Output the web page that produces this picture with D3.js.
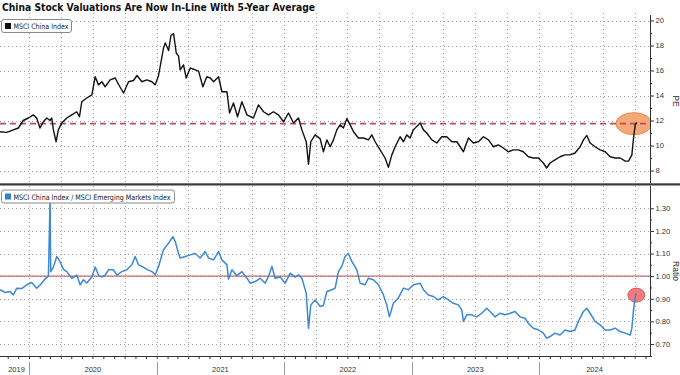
<!DOCTYPE html>
<html><head><meta charset="utf-8">
<script src="https://cdn.jsdelivr.net/npm/d3@7"></script>
<style>body{margin:0;background:#fff}svg{display:block}</style>
</head><body><svg id="c" width="680" height="375"></svg>
<script>
// ---------- DATA ----------
const titleText = "China Stock Valuations Are Now In-Line With 5-Year Average";
const peLegend = "MSCI China Index";
const ratioLegend = "MSCI China Index / MSCI Emerging Markets Index";
const peTimes = [2019.773,2019.825,2019.877,2019.916,2019.955,2019.995,2020.034,2020.060,2020.086,2020.112,2020.139,2020.165,2020.178,2020.191,2020.212,2020.230,2020.256,2020.296,2020.335,2020.374,2020.395,2020.413,2020.452,2020.492,2020.518,2020.544,2020.570,2020.596,2020.635,2020.675,2020.700,2020.740,2020.779,2020.818,2020.845,2020.884,2020.923,2020.962,2020.988,2021.014,2021.053,2021.067,2021.093,2021.111,2021.132,2021.153,2021.171,2021.184,2021.210,2021.231,2021.263,2021.302,2021.328,2021.362,2021.393,2021.420,2021.446,2021.485,2021.511,2021.551,2021.571,2021.602,2021.634,2021.668,2021.708,2021.759,2021.798,2021.838,2021.877,2021.916,2021.955,2021.995,2022.034,2022.073,2022.112,2022.139,2022.173,2022.191,2022.209,2022.243,2022.282,2022.308,2022.335,2022.361,2022.387,2022.413,2022.439,2022.465,2022.492,2022.518,2022.544,2022.583,2022.622,2022.661,2022.688,2022.714,2022.753,2022.792,2022.818,2022.845,2022.871,2022.910,2022.936,2022.962,2022.988,2023.014,2023.067,2023.093,2023.119,2023.159,2023.198,2023.237,2023.276,2023.316,2023.355,2023.407,2023.446,2023.485,2023.524,2023.564,2023.603,2023.642,2023.681,2023.720,2023.759,2023.799,2023.838,2023.877,2023.916,2023.955,2023.995,2024.034,2024.060,2024.086,2024.125,2024.165,2024.204,2024.243,2024.282,2024.322,2024.348,2024.374,2024.400,2024.439,2024.478,2024.518,2024.557,2024.596,2024.635,2024.675,2024.701,2024.727,2024.740,2024.753,2024.766];
const peValues = [11.1,11.05,11.25,11.4,12.0,12.2,12.45,12.2,11.4,11.9,12.2,12.0,12.2,11.25,10.3,11.25,11.8,12.2,12.45,12.7,12.3,13.5,13.8,14.05,15.5,14.85,15.1,14.7,15.25,15.4,14.9,14.2,15.1,15.2,15.6,15.1,15.25,15.1,14.85,15.6,17.8,18.2,17.6,18.8,18.95,17.4,17.15,16.05,16.45,15.4,16.2,16.05,15.95,14.7,15.5,15.4,15.1,15.5,14.3,14.3,12.6,13.4,12.3,13.5,12.45,12.2,13.25,12.7,12.45,12.7,12.45,11.9,12.6,11.8,12.2,11.25,10.3,8.5,10.3,10.85,10.55,9.5,10.45,9.9,10.45,11.25,11.65,11.4,12.15,11.65,11.1,10.6,10.6,10.45,10.85,10.3,9.65,9.0,8.25,9.25,9.9,10.7,10.3,10.85,10.6,11.25,11.8,11.25,11.0,10.45,10.2,10.7,10.7,10.3,10.3,9.5,10.6,10.2,10.3,10.7,10.45,9.9,10.05,9.8,9.5,9.65,9.65,9.5,9.1,9.0,9.0,8.6,8.2,8.6,8.85,9.1,9.25,9.25,9.4,9.9,10.45,10.8,10.2,9.9,9.65,9.5,9.1,9.0,9.0,8.75,8.75,9.25,10.6,11.65,11.85];
const ratioTimes = [2019.773,2019.812,2019.851,2019.877,2019.904,2019.943,2019.982,2020.021,2020.060,2020.086,2020.125,2020.152,2020.165,2020.170,2020.191,2020.217,2020.238,2020.269,2020.296,2020.335,2020.374,2020.400,2020.426,2020.452,2020.492,2020.518,2020.544,2020.570,2020.596,2020.622,2020.661,2020.688,2020.727,2020.766,2020.805,2020.831,2020.857,2020.884,2020.923,2020.962,2020.988,2021.014,2021.053,2021.093,2021.127,2021.145,2021.171,2021.184,2021.224,2021.263,2021.302,2021.341,2021.380,2021.406,2021.446,2021.485,2021.511,2021.551,2021.563,2021.590,2021.629,2021.668,2021.708,2021.733,2021.773,2021.812,2021.851,2021.877,2021.904,2021.929,2021.969,2022.008,2022.047,2022.086,2022.112,2022.139,2022.173,2022.191,2022.209,2022.243,2022.282,2022.308,2022.335,2022.374,2022.400,2022.426,2022.452,2022.478,2022.504,2022.531,2022.570,2022.596,2022.635,2022.661,2022.700,2022.740,2022.779,2022.805,2022.826,2022.857,2022.896,2022.936,2022.975,2023.014,2023.067,2023.093,2023.132,2023.171,2023.210,2023.249,2023.289,2023.328,2023.367,2023.394,2023.407,2023.433,2023.472,2023.511,2023.551,2023.590,2023.629,2023.655,2023.694,2023.733,2023.773,2023.812,2023.851,2023.890,2023.916,2023.955,2023.995,2024.034,2024.060,2024.086,2024.125,2024.165,2024.204,2024.243,2024.282,2024.308,2024.348,2024.374,2024.400,2024.439,2024.478,2024.518,2024.557,2024.596,2024.635,2024.675,2024.714,2024.727,2024.740,2024.753,2024.762];
const ratioValues = [0.94,0.928,0.932,0.917,0.947,0.945,0.962,0.972,0.947,0.96,0.987,1.0,1.34,1.02,1.04,1.087,1.07,1.03,1.02,0.99,1.005,0.962,0.984,0.97,0.996,1.04,1.005,0.996,1.005,1.028,1.028,1.005,1.02,1.028,1.05,1.087,1.05,1.043,1.03,1.02,1.006,1.043,1.117,1.146,1.175,1.153,1.10,1.08,1.087,1.094,1.10,1.08,1.109,1.08,1.072,1.109,1.072,1.05,0.987,1.028,1.002,1.02,0.991,0.969,0.976,0.991,0.969,0.999,1.043,0.991,0.996,0.969,1.013,0.996,1.006,0.991,0.925,0.77,0.873,0.895,0.866,0.87,0.932,0.94,0.947,1.02,1.043,1.087,1.10,1.065,1.028,0.969,0.962,0.991,0.984,0.962,0.917,0.873,0.82,0.88,0.903,0.947,0.94,0.962,0.969,0.94,0.917,0.91,0.895,0.91,0.895,0.88,0.873,0.851,0.80,0.829,0.829,0.82,0.836,0.858,0.836,0.82,0.836,0.829,0.836,0.844,0.82,0.814,0.792,0.77,0.763,0.748,0.726,0.733,0.748,0.74,0.762,0.755,0.762,0.80,0.844,0.858,0.836,0.80,0.785,0.762,0.762,0.77,0.755,0.748,0.74,0.77,0.851,0.91,0.925];
const peTicks = [8,10,12,14,16,18,20];
const peMinor = [9,11,13,15,17,19];
const ratioTicks = [0.70,0.80,0.90,1.00,1.10,1.20,1.30];
const ratioMinor = [0.75,0.85,0.95,1.05,1.15,1.25];
const yearLabels = ["2019","2020","2021","2022","2023","2024"];
const peAverage = 11.75;      // 5-year average (dashed)
const ratioParity = 1.00;     // parity line
const peAxisTitle = "PE", ratioAxisTitle = "Ratio";

// ---------- HELPERS ----------
function dec(t){const y=Math.floor(t);const s=Date.UTC(y,0,1),e=Date.UTC(y+1,0,1);return new Date(s+(t-y)*(e-s));}
const FONT = "'DejaVu Sans', Verdana, sans-serif";
const TFONT = "'Liberation Sans', Arial, sans-serif";
const svg = d3.select("#c");
const W = 650;
const x = d3.scaleUtc().domain([new Date(Date.UTC(2020,0,1)), new Date(Date.UTC(2024,0,1))]).range([29,539]);
const yPE = d3.scaleLinear().domain([8,20]).range([170.5,20.5]);
const yR = d3.scaleLinear().domain([0.7,1.3]).range([344,208.3]);
const pTop = {y0:13, y1:183};
const pBot = {y0:186, y1:356};
const quarters = d3.utcMonth.every(3).range(new Date(Date.UTC(2019,9,1)), new Date(Date.UTC(2025,0,1))).filter(d=>x(d)>=0&&x(d)<=W);
const months = d3.utcMonth.range(new Date(Date.UTC(2019,9,1)), new Date(Date.UTC(2025,0,1))).filter(d=>x(d)>=0&&x(d)<=W);
const defs = svg.append("defs");
defs.append("clipPath").attr("id","ct").append("rect").attr("x",0).attr("y",pTop.y0).attr("width",W).attr("height",pTop.y1-pTop.y0);
defs.append("clipPath").attr("id","cb").append("rect").attr("x",0).attr("y",pBot.y0).attr("width",W).attr("height",pBot.y1-pBot.y0);

function grid(g, ticks, y, y0, y1){
  g.selectAll(".h").data(ticks).join("line").attr("class","h").attr("x1",0).attr("x2",W).attr("y1",d=>Math.round(y(d))+0.5).attr("y2",d=>Math.round(y(d))+0.5)
   .attr("stroke","#a0a0a0").attr("stroke-width",1).attr("stroke-dasharray","1,3");
  g.selectAll(".v").data(quarters).join("line").attr("class","v").attr("x1",d=>Math.round(x(d))+0.5).attr("x2",d=>Math.round(x(d))+0.5).attr("y1",y0).attr("y2",y1)
   .attr("stroke","#a0a0a0").attr("stroke-width",1).attr("stroke-dasharray","1,3");
}
// ---------- TOP PANEL ----------
const gT = svg.append("g");
grid(gT.append("g"), peTicks, yPE, pTop.y0, pTop.y1);
const gTc = gT.append("g").attr("clip-path","url(#ct)");
const lastPE = peTimes.length-1;
gTc.append("ellipse").attr("cx",x(dec(peTimes[lastPE]))-3).attr("cy",yPE(peAverage)).attr("rx",18).attr("ry",11)
  .attr("fill","#f5a878").attr("stroke","#e88a50").attr("stroke-width",1);
gTc.append("line").attr("x1",0).attr("x2",W).attr("y1",yPE(peAverage)).attr("y2",yPE(peAverage))
  .attr("stroke","#b8525a").attr("stroke-width",1.6).attr("stroke-dasharray","6,4");
const pe = peTimes.map((t,i)=>({t:dec(t),v:peValues[i]}));
gTc.append("path").datum(pe).attr("fill","none").attr("stroke","#111").attr("stroke-width",1.4).attr("stroke-linejoin","round")
  .attr("d",d3.line().x(d=>x(d.t)).y(d=>yPE(d.v)));
const axT = gT.append("g").attr("transform",`translate(${W},0)`).call(d3.axisRight(yPE).tickValues(peTicks).tickSize(4).tickPadding(1.5).tickFormat(d3.format("d")));
axT.select(".domain").attr("d",`M0.5,${pTop.y0+2}V${pTop.y1}`).attr("stroke","#333");
gT.append("g").attr("transform",`translate(${W},0)`).call(d3.axisRight(yPE).tickValues(peMinor).tickSize(2).tickFormat("")).select(".domain").remove();
gT.append("text").attr("transform",`translate(673,101) rotate(90)`).attr("text-anchor","middle").attr("font-family",TFONT).attr("font-size",8.5).attr("fill","#333").text(peAxisTitle);

// ---------- BOTTOM PANEL ----------
const gB = svg.append("g");
grid(gB.append("g"), ratioTicks, yR, pBot.y0, pBot.y1);
const gBc = gB.append("g").attr("clip-path","url(#cb)");
gBc.append("line").attr("x1",0).attr("x2",W).attr("y1",yR(ratioParity)).attr("y2",yR(ratioParity))
  .attr("stroke","#c0686a").attr("stroke-width",1.1);
const lastR = ratioTimes.length-1;
gBc.append("ellipse").attr("cx",x(dec(ratioTimes[lastR]))).attr("cy",yR(ratioValues[lastR])+2).attr("rx",8.5).attr("ry",7)
  .attr("fill","#f07b7b").attr("stroke","#d85a5a").attr("stroke-width",1);
const ra = ratioTimes.map((t,i)=>({t:dec(t),v:ratioValues[i]}));
gBc.append("path").datum(ra).attr("fill","none").attr("stroke","#3b88d4").attr("stroke-width",1.5).attr("stroke-linejoin","round")
  .attr("d",d3.line().x(d=>x(d.t)).y(d=>yR(d.v)));
const axB = gB.append("g").attr("transform",`translate(${W},0)`).call(d3.axisRight(yR).tickValues(ratioTicks).tickSize(4).tickPadding(1.5).tickFormat(d3.format(".2f")));
axB.select(".domain").attr("d",`M0.5,${pBot.y0}V${pBot.y1}`).attr("stroke","#333");
gB.append("g").attr("transform",`translate(${W},0)`).call(d3.axisRight(yR).tickValues(ratioMinor).tickSize(2).tickFormat("")).select(".domain").remove();
gB.append("text").attr("transform",`translate(673,271) rotate(90)`).attr("text-anchor","middle").attr("font-family",TFONT).attr("font-size",8.5).attr("fill","#333").text(ratioAxisTitle);

// x axis
const axX = svg.append("g").attr("transform",`translate(0,${pBot.y1})`).call(d3.axisBottom(x).tickValues(months).tickSize(3).tickFormat(""));
axX.select(".domain").attr("d",`M0,0.5H${W+2}`).attr("stroke","#333");
const yearStarts = yearLabels.map(y=>new Date(Date.UTC(+y,0,1)));
svg.append("g").selectAll("line").data(yearStarts.slice(1)).join("line")
  .attr("x1",d=>Math.round(x(d))+0.5).attr("x2",d=>Math.round(x(d))+0.5).attr("y1",362).attr("y2",375).attr("stroke","#999").attr("stroke-width",1);
svg.append("g").selectAll("text").data(yearLabels).join("text")
  .attr("x",(d,i)=>{const a=Math.max(4,x(yearStarts[i]));const b=i<yearLabels.length-1?x(yearStarts[i+1]):W;return (a+b)/2;})
  .attr("y",372).attr("text-anchor","middle").attr("font-family",TFONT).attr("font-size",7.5).attr("fill","#333").text(d=>d);

// axes label styling
svg.selectAll(".tick text").attr("font-family",TFONT).attr("font-size",7.6).attr("fill","#333");
svg.selectAll(".tick line").attr("stroke","#333");

// separator
svg.append("rect").attr("x",0).attr("y",183.3).attr("width",680).attr("height",2.2).attr("fill","#3a3a3a");

// legends
function legend(y, w, color, label, tl){
  const g = svg.append("g");
  g.append("rect").attr("x",1.5).attr("y",y).attr("width",w).attr("height",13).attr("rx",2.5).attr("fill","#fff").attr("stroke","#8a8a8a");
  g.append("rect").attr("x",5).attr("y",y+3.5).attr("width",6).attr("height",6).attr("fill",color);
  g.append("text").attr("x",13.5).attr("y",y+9.5).attr("font-family",FONT).attr("font-size",7.5).attr("fill","#222")
   .attr("textLength",tl).attr("lengthAdjust","spacingAndGlyphs").text(label);
}
legend(19.5, 70, "#111", peLegend, 55);
legend(190, 173, "#2f80d0", ratioLegend, 157);

// title
svg.append("text").attr("x",2).attr("y",11).attr("font-family",FONT).attr("font-weight","bold").attr("font-size",10.5).attr("fill","#111")
  .attr("textLength",313).attr("lengthAdjust","spacingAndGlyphs").text(titleText);
</script></body></html>
